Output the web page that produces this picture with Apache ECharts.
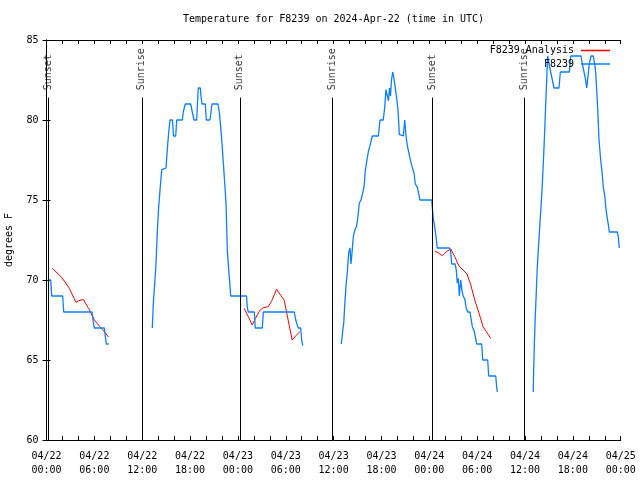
<!DOCTYPE html>
<html><head><meta charset="utf-8">
<script src="https://cdn.jsdelivr.net/npm/echarts@6/dist/echarts.min.js"></script>
<style>html,body{margin:0;padding:0;background:#fff}#c{width:640px;height:480px}</style>
</head><body><div id="c"></div>
<script>
// Hours since 2024-04-22 00:00 UTC, temperature in degrees F
const tickLabels = ['04/22\n00:00','04/22\n06:00','04/22\n12:00','04/22\n18:00','04/23\n00:00','04/23\n06:00','04/23\n12:00','04/23\n18:00','04/24\n00:00','04/24\n06:00','04/24\n12:00','04/24\n18:00','04/25\n00:00'];
const yTicks = [60, 65, 70, 75, 80, 85];

const sunEvents = [
  [0.19, 'Sunset'], [11.95, 'Sunrise'], [24.25, 'Sunset'],
  [35.88, 'Sunrise'], [48.35, 'Sunset'], [59.87, 'Sunrise']
];

const obsDay1 = [[0.15,70],[0.53,70],[0.65,69],[2.03,69],[2.16,68],[5.71,68],[5.83,67.5],[5.99,67],[7.25,67],[7.37,66.5],[7.50,66],[7.80,66]];
const obsDay2 = [[13.27,67],[13.39,68.5],[13.57,69.8],[13.73,71],[13.89,73],[14.07,74.6],[14.23,75.6],[14.45,76.9],[14.52,77],[14.98,77],[15.07,77.6],[15.20,78.5],[15.36,79.4],[15.49,80],[15.80,80],[15.92,79],[16.20,79],[16.33,80],[17.03,80],[17.15,80.5],[17.40,81],[18.08,81],[18.28,80.5],[18.50,80],[18.83,80],[19.03,82],[19.29,82],[19.37,81.5],[19.50,81],[19.91,81],[20.04,80],[20.50,80],[20.75,81],[21.50,81],[21.67,80.5],[21.84,79.6],[22.01,78.5],[22.26,76.7],[22.51,74.8],[22.67,71.9],[22.85,70.6],[23.01,69.6],[23.10,69],[25.08,69],[25.18,68.3],[25.30,68],[26.06,68],[26.18,67],[27.06,67],[27.19,68],[31.07,68],[31.25,67.5],[31.57,67],[31.87,67],[32.00,66.25],[32.13,65.9]];
const obsDay3 = [[36.97,66],[37.14,66.8],[37.27,67.3],[37.39,68.4],[37.55,69.6],[37.72,70.5],[37.89,71.7],[38.06,72],[38.18,71],[38.31,71.7],[38.47,72.7],[38.65,73.1],[38.90,73.4],[39.06,74],[39.22,74.8],[39.44,75],[39.65,75],[39.81,75.8],[39.97,76.8],[40.15,77.4],[40.35,78],[40.56,78.4],[40.85,79],[41.61,79],[41.82,80],[42.23,80],[42.41,80.8],[42.57,81.9],[42.76,82],[42.88,81.2],[43.01,82],[43.13,81.5],[43.26,82.5],[43.41,83],[43.57,82.6],[43.70,82.1],[43.91,81.35],[44.08,80.6],[44.24,79.1],[44.74,79],[44.92,80],[45.08,79],[45.24,78.4],[45.42,78],[45.58,77.6],[45.83,77.1],[46.08,76.7],[46.24,76],[46.50,75.8],[46.67,75.4],[46.83,75],[48.30,75],[48.50,73.85],[48.71,73.2],[48.84,72.7],[49.00,72],[50.51,72],[50.68,71.8],[50.81,71],[51.22,71],[51.39,70.6],[51.51,69.8],[51.64,70.1],[51.76,69],[51.94,70],[52.10,69.3],[52.26,69],[52.48,68.75],[52.60,68.3],[52.82,68],[53.10,68],[53.23,67.6],[53.39,67.1],[53.64,66.8],[53.86,66.7],[53.94,66],[54.57,66],[54.70,65],[55.32,65],[55.45,64],[56.33,64],[56.45,63.3],[56.53,63]];
const obsDay4 = [[61.04,63],[61.07,64],[61.17,66],[61.29,67.7],[61.42,69.3],[61.54,70.8],[61.72,72.3],[61.88,73.6],[62.01,74.6],[62.13,75.6],[62.22,76.5],[62.34,77.8],[62.47,79.3],[62.55,80.4],[62.72,82.5],[62.85,84],[63.01,83.5],[63.22,83],[63.47,83],[63.64,82],[64.26,82],[64.43,83],[65.56,83],[65.73,84],[67.02,84],[67.19,83.5],[67.40,83],[67.57,82.6],[67.74,82],[68.06,83.5],[68.28,84],[68.56,84],[68.74,83.5],[68.86,83],[68.99,83],[69.11,80.8],[69.28,78.75],[69.49,77.5],[69.65,76.8],[69.82,75.8],[69.99,75.3],[70.16,74.4],[70.32,73.85],[70.50,73.3],[70.57,73],[71.57,73],[71.70,72.7],[71.82,72]];

const anaDay1 = [[0.73,70.73],[1.9,70.17],[2.86,69.48],[3.7,68.6],[4.03,68.7],[4.6,68.79],[5.28,68.23],[6.0,67.5],[6.7,67.08],[7.24,66.77],[7.8,66.42]];
const anaDay2 = [[24.79,68.23],[25.8,67.19],[26.2,67.6],[26.75,68.1],[27.17,68.27],[27.8,68.33],[28.2,68.65],[28.85,69.42],[29.35,69.06],[29.8,68.75],[30.3,67.5],[30.8,66.25],[31.35,66.56],[31.77,66.77]];
const anaDay3 = [[48.68,71.81],[49.19,71.67],[49.65,71.52],[50.15,71.77],[50.69,71.94],[51.19,71.46],[51.73,70.875],[52.23,70.625],[52.73,70.375],[53.2,69.69],[53.7,68.75],[54.24,67.92],[54.74,67.08],[55.16,66.77],[55.7,66.35]];

function joinSegs(segs) {
  const out = [];
  segs.forEach((s, i) => { if (i) out.push([s[0][0] - 0.01, null]); s.forEach(p => out.push(p)); });
  return out;
}

const FONT = 'DejaVu Sans Mono';
const chart = echarts.init(document.getElementById('c'), null, {renderer: 'canvas'});
const axisCommon = {
  axisLine: {show: true, lineStyle: {color: '#000', width: 1}},
  axisTick: {show: true, inside: true, length: 4, lineStyle: {color: '#000'}},
  splitLine: {show: false}
};
chart.setOption({
  animation: false,
  backgroundColor: '#fff',
  title: {
    text: 'Temperature for F8239 on 2024-Apr-22 (time in UTC)',
    left: 183, top: 14, padding: 0,
    textStyle: {fontFamily: FONT, fontSize: 10, fontWeight: 'normal', color: '#000'}
  },
  legend: {
    data: ['F8239 Analysis', 'F8239'],
    orient: 'vertical', right: 30, top: 45, align: 'right',
    icon: 'rect', itemWidth: 29, itemHeight: 1.5, itemGap: 2.5,
    selectedMode: false, padding: 0,
    textStyle: {fontFamily: FONT, fontSize: 10, color: '#000', padding: [0, 2, 0, 0], lineHeight: 11}
  },
  grid: {left: 46.5, right: 19.3, top: 40, bottom: 40, outerBoundsMode: 'none', containLabel: false},
  xAxis: [
    Object.assign({type: 'value', min: 0, max: 72, interval: 2, position: 'bottom',
      axisLabel: {fontFamily: FONT, fontSize: 10, color: '#000', margin: 9, lineHeight: 14,
        showMinLabel: true, showMaxLabel: true,
        formatter: v => (Math.round(v) % 6 === 0 ? tickLabels[Math.round(v) / 6] : '')}}, axisCommon),
    Object.assign({type: 'value', min: 0, max: 72, interval: 2, position: 'top',
      axisLabel: {show: false}}, axisCommon)
  ],
  yAxis: [
    Object.assign({type: 'value', min: yTicks[0], max: yTicks[yTicks.length - 1], interval: 5, position: 'left',
      name: 'degrees F', nameLocation: 'middle', nameGap: 32, nameRotate: 90,
      nameTextStyle: {fontFamily: FONT, fontSize: 10, color: '#000'},
      axisLabel: {fontFamily: FONT, fontSize: 10, color: '#000', margin: 8}}, axisCommon),
    Object.assign({type: 'value', min: yTicks[0], max: yTicks[yTicks.length - 1], interval: 5, position: 'right',
      axisLabel: {show: false}}, axisCommon)
  ],
  series: [
    {
      name: 'sun', type: 'line', data: [], silent: true,
      markLine: {
        silent: true, symbol: ['none', 'none'], animation: false,
        label: {show: false},
        lineStyle: {color: '#000', width: 1, type: 'solid'},
        data: sunEvents.map(e => [{coord: [e[0], 60]}, {coord: [e[0], 81.4]}])
      }
    },
    {
      name: 'sunLabels', type: 'scatter', silent: true, symbolSize: 0.1,
      itemStyle: {color: 'rgba(0,0,0,0)'},
      data: sunEvents.map(e => [e[0], 81.85, e[1]]),
      label: {show: true, position: [0, 0], align: 'left', verticalAlign: 'middle', rotate: 90,
        formatter: p => p.data[2], fontFamily: FONT, fontSize: 10, color: '#000'}
    },
    {
      name: 'F8239 Analysis', type: 'line', data: joinSegs([anaDay1, anaDay2, anaDay3]),
      showSymbol: false, symbol: 'none', connectNulls: false, color: '#ff0000',
      lineStyle: {color: '#ff0000', width: 1}
    },
    {
      name: 'F8239', type: 'line', data: joinSegs([obsDay1, obsDay2, obsDay3, obsDay4]),
      showSymbol: false, symbol: 'none', connectNulls: false, color: '#0a80ff',
      lineStyle: {color: '#0a80ff', width: 1.3}
    }
  ]
});
</script></body></html>
